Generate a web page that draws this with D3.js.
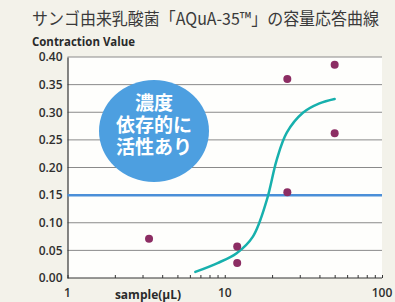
<!DOCTYPE html>
<html>
<head>
<meta charset="utf-8">
<script src="https://cdn.jsdelivr.net/npm/d3@7"></script>
<style>
  body { margin: 0; background: #f3f2ea; }
  svg { display: block; }
</style>
</head>
<body>
<script>
// measured points (sample uL, contraction value)
var dotX = [3.3, 12, 12, 25, 25, 50, 50];
var dotY = [0.071, 0.057, 0.027, 0.155, 0.36, 0.386, 0.262];

// fitted dose response curve
var curveX = [6.5, 9, 11.9, 15.1, 18.5, 21.4, 24.8, 31.4, 40, 50];
var curveY = [0.011, 0.027, 0.045, 0.075, 0.141, 0.214, 0.263, 0.299, 0.316, 0.324];

var threshold = 0.15;
var yTicks = [0, 0.05, 0.10, 0.15, 0.20, 0.25, 0.30, 0.35, 0.40];
var xLabels = [1, 10, 100];
var badgeLines = ["濃度", "依存的に", "活性あり"];

var width = 395;
var height = 302;

var margins = {
  top: 57,
  bottom: 24,
  left: 67.5,
  right: 13
};

var svg = d3.select("body").append("svg")
  .attr("width", width)
  .attr("height", height);

var plotW = width - margins.left - margins.right;
var plotH = height - margins.top - margins.bottom;

var xScale = d3.scaleLog()
  .domain([1, 100])
  .range([margins.left, margins.left + plotW]);
var yScale = d3.scaleLinear()
  .domain([0, 0.40])
  .range([margins.top + plotH, margins.top]);

// plot background
svg.append("rect")
  .attr("x", margins.left)
  .attr("y", margins.top)
  .attr("width", plotW)
  .attr("height", plotH)
  .attr("fill", "#fefefc");

// title
svg.append("text")
  .attr("x", 32)
  .attr("y", 25)
  .attr("font-family", "Noto Sans CJK JP")
  .attr("font-size", 17)
  .attr("fill", "#3a3a3a")
  .attr("textLength", 347)
  .attr("lengthAdjust", "spacingAndGlyphs")
  .text("サンゴ由来乳酸菌「AQuA-35™」の容量応答曲線");

svg.append("text")
  .attr("x", 32)
  .attr("y", 46)
  .attr("font-family", "Open Sans")
  .attr("font-weight", "bold")
  .attr("font-size", 12)
  .attr("fill", "#2a2a2a")
  .attr("textLength", 103)
  .attr("lengthAdjust", "spacingAndGlyphs")
  .text("Contraction Value");

// grid lines
svg.append("g")
  .selectAll("line")
  .data(yTicks.filter(function(d){ return d > 0 && d !== threshold; }))
  .enter()
  .append("line")
  .attr("x1", margins.left)
  .attr("x2", margins.left + plotW)
  .attr("y1", function(d){ return yScale(d); })
  .attr("y2", function(d){ return yScale(d); })
  .attr("stroke", "#8a8a8a")
  .attr("stroke-width", 1);

// y axis
var yAxis = d3.axisLeft(yScale)
  .tickValues(yTicks)
  .tickSize(0)
  .tickPadding(5)
  .tickFormat(d3.format(".2f"));

var yG = svg.append("g")
  .attr("transform", "translate(" + margins.left + ",0)")
  .call(yAxis);
yG.select(".domain").attr("stroke", "#333").attr("stroke-width", 1.2);
yG.selectAll("text")
  .attr("font-family", "Open Sans")
  .attr("font-weight", 600)
  .attr("font-size", 12)
  .attr("fill", "#2e2e2e");

// threshold line
svg.append("line")
  .attr("x1", margins.left)
  .attr("x2", margins.left + plotW)
  .attr("y1", yScale(threshold))
  .attr("y2", yScale(threshold))
  .attr("stroke", "#4b8fd8")
  .attr("stroke-width", 2.5);

// badge
var badge = svg.append("g");
badge.append("ellipse")
  .attr("cx", 154)
  .attr("cy", 131)
  .attr("rx", 55)
  .attr("ry", 51)
  .attr("fill", "#4d9fe0");
badge.selectAll("text")
  .data(badgeLines)
  .enter()
  .append("text")
  .attr("x", 154)
  .attr("y", function(d, i){ return 110 + i * 22; })
  .attr("text-anchor", "middle")
  .attr("font-family", "Noto Sans CJK JP")
  .attr("font-weight", "bold")
  .attr("font-size", 19)
  .attr("fill", "#ffffff")
  .text(function(d){ return d; });

// x axis
var xAxis = d3.axisBottom(xScale)
  .tickValues(d3.range(1, 10).concat(d3.range(10, 101, 10)))
  .tickSize(-3)
  .tickFormat("");

var xG = svg.append("g")
  .attr("transform", "translate(0," + (margins.top + plotH) + ")")
  .call(xAxis);
xG.select(".domain").attr("d", "M" + margins.left + ",0H" + (margins.left + plotW)).attr("stroke", "#333").attr("stroke-width", 1.2);
xG.selectAll(".tick line").attr("stroke", "#333");

svg.append("g")
  .selectAll("text")
  .data(xLabels)
  .enter()
  .append("text")
  .attr("x", function(d){ return xScale(d); })
  .attr("y", 297)
  .attr("text-anchor", "middle")
  .attr("font-family", "Open Sans")
  .attr("font-weight", 600)
  .attr("font-size", 12)
  .attr("fill", "#2e2e2e")
  .text(function(d){ return d; });

svg.append("text")
  .attr("x", 148)
  .attr("y", 299)
  .attr("text-anchor", "middle")
  .attr("font-family", "Open Sans")
  .attr("font-weight", "bold")
  .attr("font-size", 12)
  .attr("fill", "#2a2a2a")
  .text("sample(μL)");

// curve
var line = d3.line()
  .x(function(d){ return xScale(d[0]); })
  .y(function(d){ return yScale(d[1]); })
  .curve(d3.curveCatmullRom);

svg.append("path")
  .datum(d3.zip(curveX, curveY))
  .attr("d", line)
  .attr("fill", "none")
  .attr("stroke", "#17b0ad")
  .attr("stroke-width", 2.5)
  .attr("stroke-linecap", "round");

// dots
svg.append("g")
  .selectAll("circle")
  .data(d3.zip(dotX, dotY))
  .enter()
  .append("circle")
  .attr("cx", function(d){ return xScale(d[0]); })
  .attr("cy", function(d){ return yScale(d[1]); })
  .attr("r", 4)
  .attr("fill", "#8c2d63");
</script>
</body>
</html>
